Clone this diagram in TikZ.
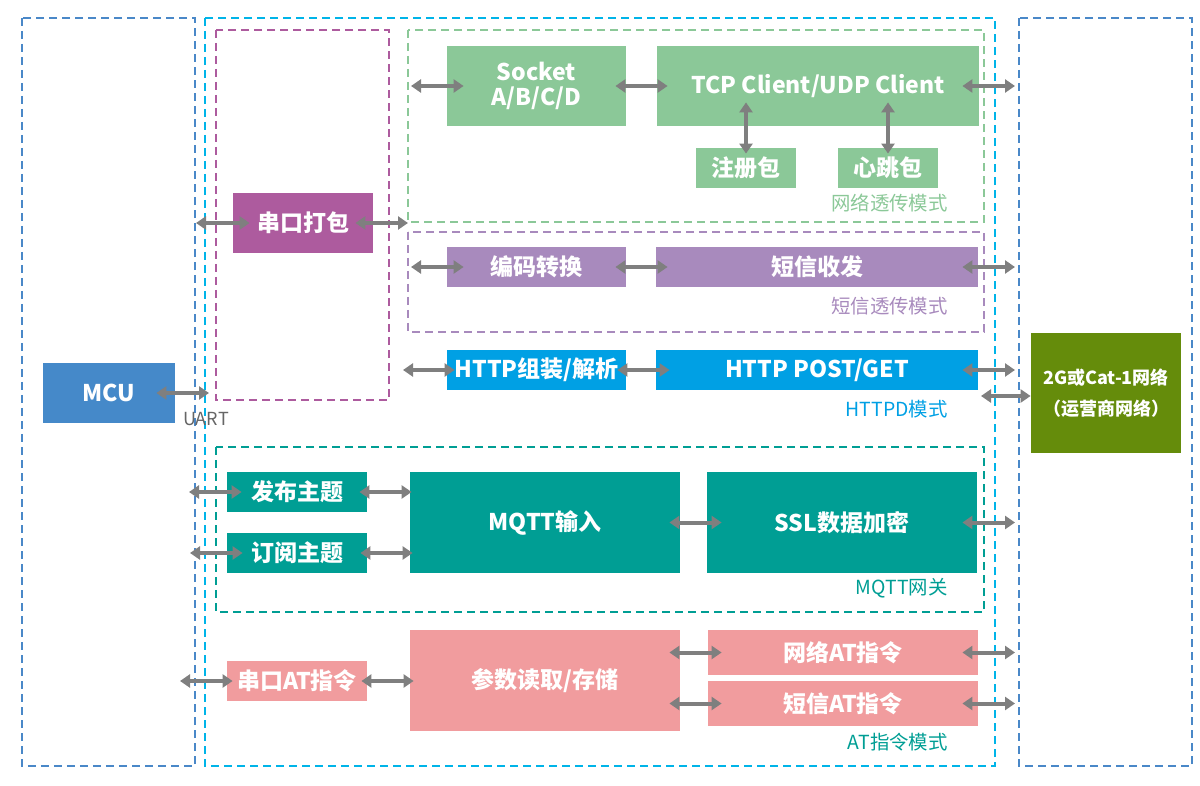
\documentclass[tikz,border=0pt]{standalone}
\usepackage{fontspec}
\setmainfont{Noto Sans CJK SC}
\usetikzlibrary{arrows.meta}
\definecolor{netgreen}{HTML}{8BC898}
\definecolor{packpink}{HTML}{AD5B9E}
\definecolor{smspurple}{HTML}{A88ABD}
\definecolor{httpblue}{HTML}{00A0E4}
\definecolor{mcublue}{HTML}{4589C9}
\definecolor{mqttteal}{HTML}{009E94}
\definecolor{atpink}{HTML}{F19C9E}
\definecolor{opolive}{HTML}{658C0B}
\definecolor{arrowgray}{HTML}{7F7F7F}
\definecolor{framecyan}{HTML}{00B4E8}
\definecolor{frameblue}{HTML}{4A88C8}

\begin{document}
\begin{tikzpicture}[x=0.5pt,y=-0.5pt,
  blk/.style={inner sep=0pt, text=white, align=center,
    font=\fontsize{11.5}{12.5}\selectfont\bfseries},
  frame/.style={line width=1pt, dash pattern=on 4pt off 2.5pt},
  link/.style={{Triangle[length=5pt,width=6.5pt]}-{Triangle[length=5pt,width=6.5pt]},
    line width=2pt, draw=arrowgray},
  mode/.style={anchor=east, inner sep=0pt, font=\fontsize{9.7}{11}\selectfont}]
       \useasboundingbox (0,0) rectangle (1200,786);
       \draw[frame,frameblue] (22,18) rectangle (195,766);
       \draw[frame,framecyan] (205,18) rectangle (995,766);
       \draw[frame,frameblue] (1019,18) rectangle (1192,766);
       \draw[frame,packpink] (216,30) rectangle (389,400);
       \draw[frame,netgreen] (408,30) rectangle (984,222);
       \draw[frame,smspurple] (408,232) rectangle (984,332);
       \draw[frame,mqttteal] (216,447) rectangle (984,612);

       \node[blk,fill=netgreen,minimum width=89.5pt,minimum height=40pt] (socket) at (536.5,86) {Socket\\A/B/C/D};
       \node[blk,fill=netgreen,minimum width=161pt,minimum height=40pt] (tcp) at (818,86) {TCP Client/UDP Client};
       \node[blk,fill=netgreen,minimum width=50pt,minimum height=20pt] (reg) at (746,168) {注册包};
       \node[blk,fill=netgreen,minimum width=50pt,minimum height=20pt] (heart) at (888,168) {心跳包};
       \node[mode,text=netgreen] (lblnet) at (948,203) {网络透传模式};
       \node[blk,fill=packpink,minimum width=70pt,minimum height=30pt] (pack) at (303,223) {串口打包};
       \node[blk,fill=smspurple,minimum width=89.5pt,minimum height=20pt] (code) at (536.5,267) {编码转换};
       \node[blk,fill=smspurple,minimum width=161pt,minimum height=20pt] (sms) at (817,267) {短信收发};
       \node[mode,text=smspurple] (lblsms) at (948,306) {短信透传模式};
       \node[blk,fill=httpblue,minimum width=89.5pt,minimum height=20pt] (hpack) at (536.5,370) {HTTP组装/解析};
       \node[blk,fill=httpblue,minimum width=161pt,minimum height=20pt] (hpost) at (817,370) {HTTP POST/GET};
       \node[mode,text=httpblue] (lblhttp) at (948,409) {HTTPD模式};
       \node[blk,fill=mcublue,minimum width=66pt,minimum height=30pt] (mcu) at (109,393) {MCU};
       \node[inner sep=0pt,text=black!60,font=\fontsize{9}{10}\selectfont] (uart) at (206,419) {UART};
       \node[blk,fill=opolive,minimum width=75pt,minimum height=60pt,
         font=\fontsize{9}{15.5}\selectfont\bfseries] (net) at (1106,393) {2G或Cat-1网络\\（运营商网络）};
       \node[blk,fill=mqttteal,minimum width=70pt,minimum height=20pt] (pub) at (297,492) {发布主题};
       \node[blk,fill=mqttteal,minimum width=70pt,minimum height=20pt] (sub) at (297,553) {订阅主题};
       \node[blk,fill=mqttteal,minimum width=135pt,minimum height=50.5pt] (mqtt) at (545,522.5) {MQTT输入};
       \node[blk,fill=mqttteal,minimum width=135pt,minimum height=50.5pt] (ssl) at (842,522.5) {SSL数据加密};
       \node[mode,text=mqttteal] (lblmqtt) at (948,588) {MQTT网关};
       \node[blk,fill=atpink,minimum width=70pt,minimum height=20pt] (atser) at (297,681) {串口AT指令};
       \node[blk,fill=atpink,minimum width=135pt,minimum height=50.5pt] (param) at (545,680.5) {参数读取/存储};
       \node[blk,fill=atpink,minimum width=135pt,minimum height=22.5pt] (atnet) at (843,652.5) {网络AT指令};
       \node[blk,fill=atpink,minimum width=135pt,minimum height=22.5pt] (atsms) at (843,703.5) {短信AT指令};
       \node[mode,text=mqttteal] (lblat) at (948,742) {AT指令模式};

       \coordinate (sockL) at (411,86);
       \coordinate (tcpR) at (1015,86);
       \coordinate (packL) at (196,223);
       \coordinate (packR) at (408,223);
       \coordinate (codeL) at (411,267);
       \coordinate (smsR) at (1015,267);
       \coordinate (hpackL) at (403,370);
       \coordinate (hpostR) at (1015,370);
       \coordinate (netL) at (981,396);
       \coordinate (mcuR) at (209,393);
       \coordinate (pubL) at (189,492);
       \coordinate (subL) at (190,553);
       \coordinate (sslR) at (1015,522.5);
       \coordinate (atserL) at (180,681);
       \coordinate (atnetR) at (1015,652.5);
       \coordinate (atsmsR) at (1015,703.5);

       \draw[link,shorten >=-8.5pt] (sockL) -- (socket.west);
       \draw[link,shorten <=-5.5pt,shorten >=-5.5pt] (socket.east) -- (tcp.west);
       \draw[link,shorten <=-8.5pt] (tcp.east) -- (tcpR);
       \draw[link,shorten <=-12pt,shorten >=-3pt] (reg.north |- tcp.south) -- (reg.north);
       \draw[link,shorten <=-12pt,shorten >=-3pt] (heart.north |- tcp.south) -- (heart.north);
       \draw[link,shorten >=-8.5pt] (packL) -- (pack.west);
       \draw[link,shorten <=-9pt] (pack.east) -- (packR);
       \draw[link,shorten >=-8.5pt] (codeL) -- (code.west);
       \draw[link,shorten <=-5.5pt,shorten >=-6pt] (code.east) -- (sms.west);
       \draw[link,shorten <=-8pt] (sms.east) -- (smsR);
       \draw[link,shorten >=-4pt] (hpackL) -- (hpack.west);
       \draw[link,shorten <=-4.5pt,shorten >=-7pt] (hpack.east) -- (hpost.west);
       \draw[link,shorten <=-8pt] (hpost.east) -- (hpostR);
       \draw[link] (netL) -- (net.west |- netL);
       \draw[link,shorten <=-9.5pt] (mcu.east) -- (mcuR);
       \draw[link,shorten >=-7.5pt] (pubL) -- (pub.west);
       \draw[link,shorten <=-4pt,shorten >=-1pt] (pub.east) -- (pub.east -| mqtt.west);
       \draw[link,shorten >=-8pt] (subL) -- (sub.west);
       \draw[link,shorten <=-3.5pt,shorten >=-1.5pt] (sub.east) -- (sub.east -| mqtt.west);
       \draw[link,shorten <=-5.5pt,shorten >=-7.5pt] (mqtt.east) -- (ssl.west);
       \draw[link,shorten <=-7.5pt] (ssl.east) -- (sslR);
       \draw[link,shorten >=-3pt] (atserL) -- (atser.west);
       \draw[link,shorten <=-3pt,shorten >=-2pt] (atser.east) -- (atser.east -| param.west);
       \draw[link,shorten <=-5.5pt,shorten >=-7pt] (param.east |- atnet.west) -- (atnet.west);
       \draw[link,shorten <=-5.5pt,shorten >=-7pt] (param.east |- atsms.west) -- (atsms.west);
       \draw[link,shorten <=-8pt] (atnet.east) -- (atnetR);
       \draw[link,shorten <=-8pt] (atsms.east) -- (atsmsR);
      \end{tikzpicture}
\end{document}
